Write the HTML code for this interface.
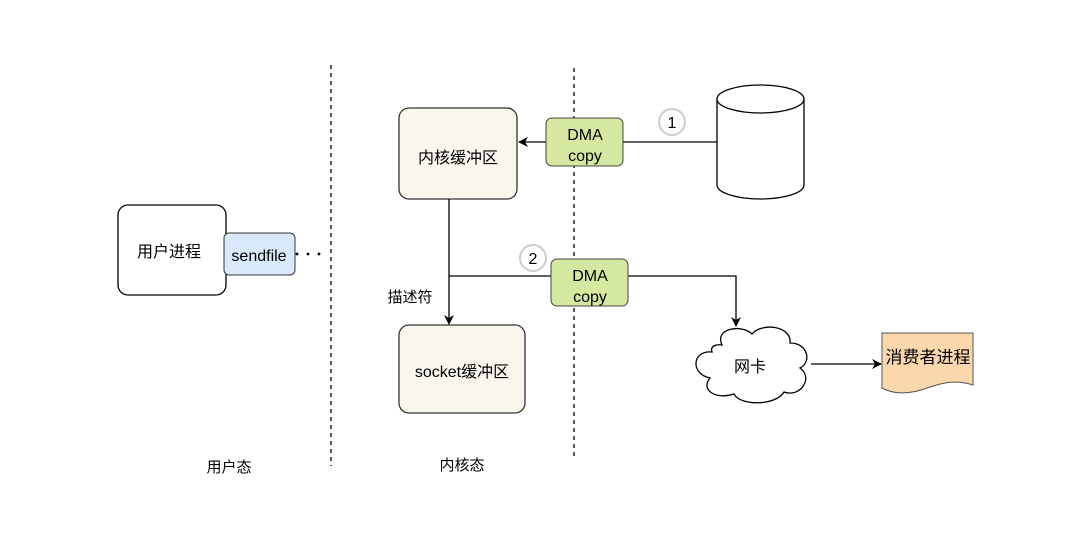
<!DOCTYPE html>
<html><head><meta charset="utf-8"><style>
body{margin:0;background:#fff}
svg{display:block}
text{font-family:"Liberation Sans","Noto Sans CJK SC",sans-serif;fill:#000}
</style></head><body>
<svg width="1080" height="558" viewBox="0 0 1080 558">
<defs><marker id="a" markerWidth="10" markerHeight="10" refX="9" refY="5" orient="auto" markerUnits="userSpaceOnUse"><path d="M0,0 L10,5 L0,10 L3,5 Z" fill="#000"/></marker></defs>
<rect width="1080" height="558" fill="#fff"/>
<line x1="331" y1="65" x2="331" y2="466" stroke="#000" stroke-dasharray="4,4" stroke-width="1.3"/>
<line x1="574" y1="68" x2="574" y2="460" stroke="#000" stroke-dasharray="4,4" stroke-width="1.3"/>
<rect x="118" y="205" width="108" height="90" rx="10" fill="#fff" stroke="#000" stroke-width="1.3"/>
<text x="169" y="257" font-size="16" text-anchor="middle">用户进程</text>
<rect x="224" y="233" width="71" height="42" rx="5" fill="#dae8fc" stroke="#333" stroke-width="1"/>
<text x="259" y="261" font-size="16" text-anchor="middle">sendfile</text>
<circle cx="297" cy="254" r="1.4"/><circle cx="308" cy="254" r="1.4"/><circle cx="319" cy="254" r="1.4"/>
<rect x="399" y="108" width="118" height="91" rx="10" fill="#f9f7ed" stroke="#333" stroke-width="1.3"/>
<text x="458" y="163" font-size="16" text-anchor="middle">内核缓冲区</text>
<rect x="399" y="325" width="126" height="88" rx="10" fill="#f9f7ed" stroke="#333" stroke-width="1.3"/>
<text x="462" y="377" font-size="16" text-anchor="middle">socket缓冲区</text>
<line x1="717" y1="142" x2="623" y2="142" stroke="#000" stroke-width="1.3"/>
<line x1="546" y1="142" x2="519" y2="142" stroke="#000" stroke-width="1.3" marker-end="url(#a)"/>
<rect x="546" y="118" width="77" height="48" rx="6" fill="#d5e8a0" stroke="#444" stroke-width="1"/>
<text x="585" y="140" font-size="16" text-anchor="middle">DMA</text>
<text x="585" y="161" font-size="16" text-anchor="middle">copy</text>
<circle cx="672" cy="122" r="13" fill="#fff" stroke="#ccc" stroke-width="2"/>
<text x="672" y="128" font-size="16" text-anchor="middle">1</text>
<path d="M717,99 L717,185 A43.5,14 0 0 0 804,185 L804,99" fill="#fff" stroke="#000" stroke-width="1.3"/>
<ellipse cx="760.5" cy="99" rx="43.5" ry="14" fill="#fff" stroke="#000" stroke-width="1.3"/>
<line x1="449" y1="199" x2="449" y2="324" stroke="#000" stroke-width="1.3" marker-end="url(#a)"/>
<line x1="449" y1="276" x2="551" y2="276" stroke="#000" stroke-width="1.3"/>
<polyline points="628,276 736,276 736,326" fill="none" stroke="#000" stroke-width="1.3" marker-end="url(#a)"/>
<rect x="551" y="259" width="77" height="47" rx="6" fill="#d5e8a0" stroke="#444" stroke-width="1"/>
<text x="590" y="281" font-size="16" text-anchor="middle">DMA</text>
<text x="590" y="302" font-size="16" text-anchor="middle">copy</text>
<circle cx="533" cy="258" r="13" fill="#fff" stroke="#ccc" stroke-width="2"/>
<text x="533" y="264" font-size="16" text-anchor="middle">2</text>
<text x="410" y="302" font-size="15" text-anchor="middle">描述符</text>
<path d="M722,345 C714,328 742,324 752,334 C762,322 792,326 790,343 C808,343 812,362 800,368 C814,378 800,398 784,392 C776,406 740,406 734,394 C716,400 700,390 710,378 C690,374 692,350 712,352 C710,346 716,344 722,345 Z" fill="#fff" stroke="#000" stroke-width="1.3"/>
<text x="750" y="372" font-size="16" text-anchor="middle">网卡</text>
<line x1="811" y1="364" x2="881" y2="364" stroke="#000" stroke-width="1.3" marker-end="url(#a)"/>
<path d="M882,333 L973,333 L973,385 C958,380 945,382 930,387 C912,394 895,395 882,388 Z" fill="#fad7ac" stroke="#555" stroke-width="1"/>
<text x="928" y="363" font-size="17" text-anchor="middle">消费者进程</text>
<text x="229" y="472" font-size="15" text-anchor="middle">用户态</text>
<text x="462" y="470" font-size="15" text-anchor="middle">内核态</text>
</svg>
</body></html>
